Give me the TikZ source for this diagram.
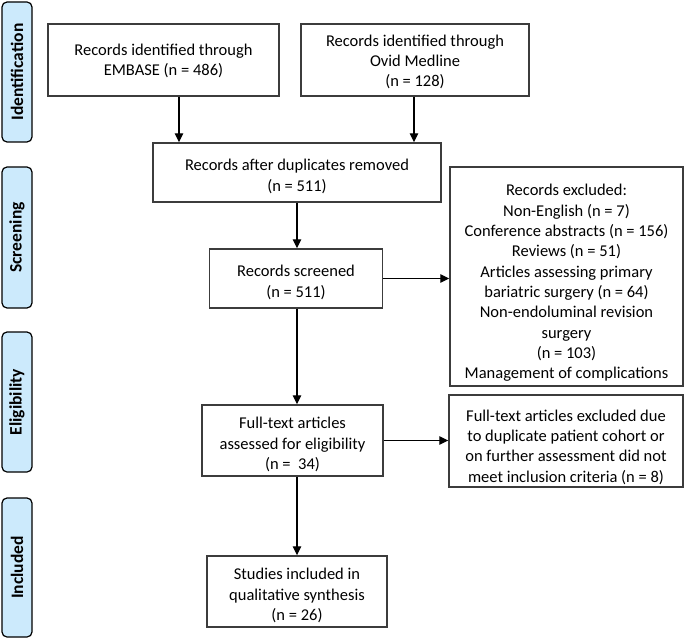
\documentclass[tikz,border=0pt]{standalone}
\usepackage{fontspec}
\setmainfont{Carlito}
\usetikzlibrary{arrows.meta}
\definecolor{sidefill}{RGB}{204,234,252}
\definecolor{boxline}{RGB}{60,60,60}
\begin{document}
\begin{tikzpicture}[x=1pt,y=-1pt,
  box/.style={draw=boxline, line width=1.4pt, fill=white, inner sep=0pt},
  lbl/.style={align=center, inner sep=0pt, font=\fontsize{16.5}{20.3}\selectfont},
  side/.style={draw=black, line width=1.2pt, fill=sidefill, rounded corners=5pt, rotate=90,
    minimum height=30, inner sep=0pt, font=\fontsize{17.5}{20}\selectfont\bfseries},
  arr/.style={line width=1.3pt, -{Triangle[length=9pt,width=8.5pt]}}]
\useasboundingbox (0,0) rectangle (685,639);
% side labels
\node[side, minimum width=140] (s1) at (17,72) {Identification};
\node[side, minimum width=141] (s2) at (17,237.5) {Screening};
\node[side, minimum width=140] (s3) at (17,402) {Eligibility};
\node[side, minimum width=139] (s4) at (17,567.5) {Included};
% boxes
\node[box, minimum width=231, minimum height=72,
  label={[lbl, yshift=-1]center:{Records identified through\\EMBASE (n = 486)}}] (emb) at (163.5,60) {};
\node[box, minimum width=228, minimum height=72,
  label={[lbl, yshift=-2]center:{Records identified through\\Ovid Medline\\(n = 128)}}] (ovid) at (415,60) {};
\node[box, minimum width=288, minimum height=59,
  label={[lbl, yshift=-4]center:{Records after duplicates removed\\(n = 511)}}] (dup) at (297,172.5) {};
\node[box, minimum width=173, minimum height=59,
  label={[lbl, yshift=-4]center:{Records screened\\(n = 511)}}] (scr) at (296,278.5) {};
\node[box, minimum width=233, minimum height=219,
  label={[lbl, yshift=-6.5]center:{Records excluded:\\Non-English (n = 7)\\Conference abstracts (n = 156)\\Reviews (n = 51)\\Articles assessing primary\\bariatric surgery (n = 64)\\Non-endoluminal revision\\surgery\\(n = 103)\\Management of complications}}] (exc) at (566.5,276.5) {};
\node[box, minimum width=181, minimum height=71,
  label={[lbl, yshift=-4]center:{Full-text articles\\assessed for eligibility\\(n =\ \ 34)}}] (ft) at (292.5,440.5) {};
\node[box, minimum width=234, minimum height=92,
  label={[lbl, yshift=-6]center:{Full-text articles excluded due\\to duplicate patient cohort or\\on further assessment did not\\meet inclusion criteria (n = 8)}}] (ftx) at (566,441) {};
\node[box, minimum width=180, minimum height=71,
  label={[lbl, yshift=-4]center:{Studies included in\\qualitative synthesis\\(n = 26)}}] (inc) at (297,591.5) {};
% connectors
\draw[arr] ([xshift=15.5]emb.south) -- ([xshift=15.5]emb.south |- dup.north);
\draw[arr] ([xshift=-1]ovid.south) -- ([xshift=-1]ovid.south |- dup.north);
\draw[arr] (dup.south) -- (dup.south |- scr.north);
\draw[arr] (scr.east) -- (scr.east -| exc.west);
\draw[arr] (scr.south -| dup.south) -- (dup.south |- ft.north);
\draw[arr] (ft.east) -- (ft.east -| ftx.west);
\draw[arr] (ft.south -| dup.south) -- (dup.south |- inc.north);
\end{tikzpicture}
\end{document}
